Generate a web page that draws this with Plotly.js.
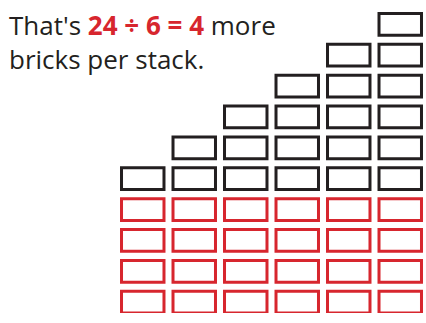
<!DOCTYPE html>
<html>
<head>
<meta charset="utf-8">
<script src="https://cdn.plot.ly/plotly-3.0.1.min.js"></script>
<style>html,body{margin:0;padding:0;background:#fff;}#chart{width:426px;height:323px;}</style>
</head>
<body>
<div id="chart"></div>
<script>
// Data
const stacks = [0, 1, 2, 3, 4, 5];
const redCounts = [4, 4, 4, 4, 4, 4];
const blackCounts = [1, 2, 3, 4, 5, 6];
const titleText = "That's <b><span style='color:#d7262e'>24 ÷ 6 = 4</span></b> more<br>bricks per stack.";

const BRICK_H = 0.703;
const RED = '#d7262e';
const DARK = '#231f20';

function bricks(counts, offsets) {
  const x = [], base = [], y = [];
  stacks.forEach((s, i) => {
    for (let k = 0; k < counts[i]; k++) {
      x.push(s);
      base.push((offsets ? offsets[i] : 0) + k);
      y.push(BRICK_H);
    }
  });
  return {x, base, y};
}

const r = bricks(redCounts, null);
const b = bricks(blackCounts, redCounts);

const common = {
  type: 'bar', width: 0.825, hoverinfo: 'skip', cliponaxis: false,
};
const traces = [
  Object.assign({}, common, {x: r.x, y: r.y, base: r.base,
    marker: {color: 'rgba(255,255,255,0)', line: {color: RED, width: 3}}}),
  Object.assign({}, common, {x: b.x, y: b.y, base: b.base,
    marker: {color: 'rgba(255,255,255,0)', line: {color: DARK, width: 3}}})
];

const L = 117, T = 4, B = 10, W = 426, H = 323;
const plotH = H - T - B, plotW = W - L;
const px2xp = px => (px - L) / plotW;
const py2yp = py => (H - B - py) / plotH;

const layout = {
  width: W, height: H,
  margin: {l: L, r: 0, t: T, b: B, pad: 0},
  paper_bgcolor: '#fff', plot_bgcolor: '#fff',
  barmode: 'overlay', showlegend: false,
  xaxis: {range: [-0.5, 5.5], visible: false, fixedrange: true},
  yaxis: {range: [0, plotH / 30.87], visible: false, fixedrange: true},
  annotations: [
    {text: titleText, xref: 'paper', yref: 'paper', x: px2xp(8), y: py2yp(42.2),
     xanchor: 'left', yanchor: 'middle', align: 'left', showarrow: false, borderpad: 0,
     font: {family: 'Open Sans', size: 26, color: DARK}}
  ]
};

Plotly.newPlot('chart', traces, layout, {staticPlot: true, displayModeBar: false});
</script>
</body>
</html>
